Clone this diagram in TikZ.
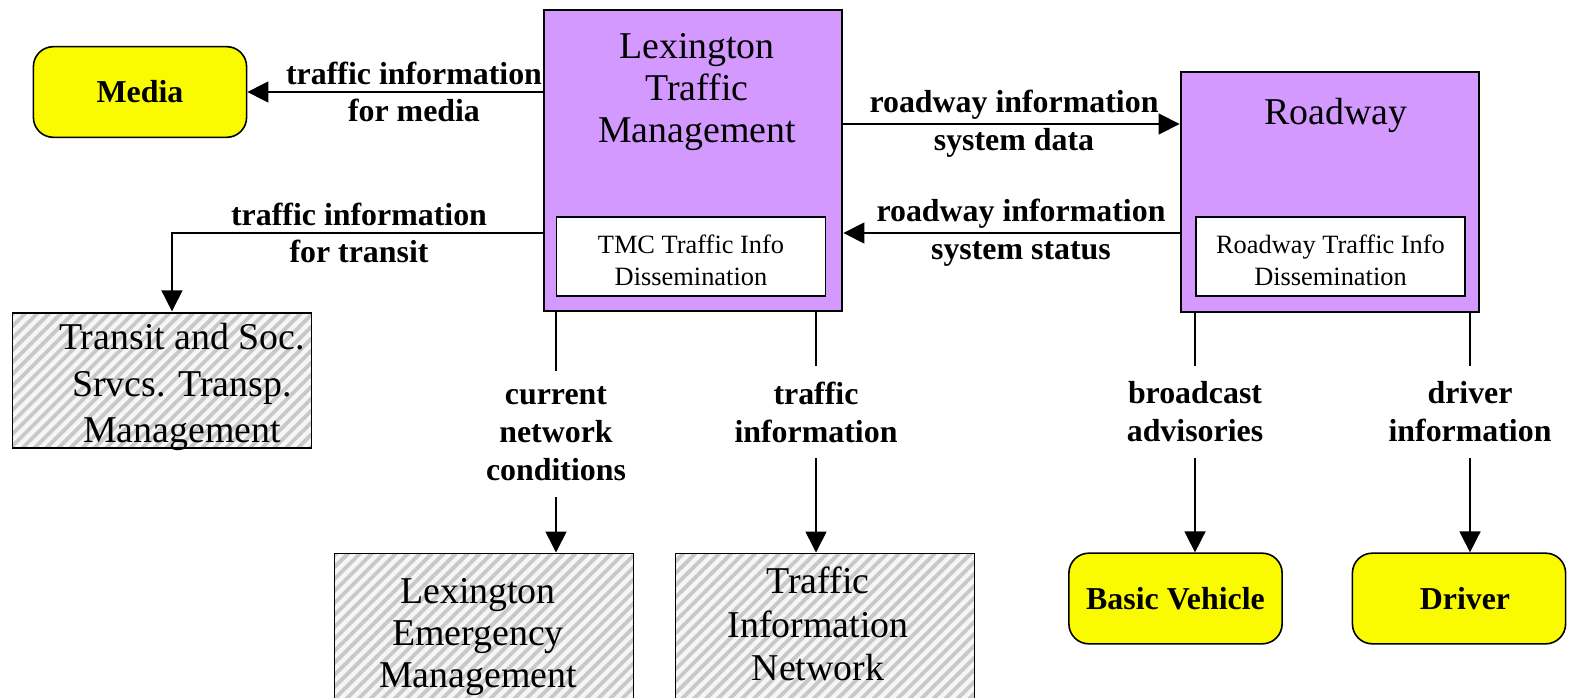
\documentclass[tikz,border=0pt]{standalone}
\usepackage{fontspec}
\setmainfont{Liberation Serif}
\usepackage{xcolor}
\usetikzlibrary{arrows.meta,patterns.meta}
\definecolor{tmcPurple}{RGB}{212,153,255}
\definecolor{termYellow}{RGB}{250,250,0}
\definecolor{hatchGray}{RGB}{200,200,200}
\newcommand{\BigTxt}{\fontsize{38}{42}\selectfont}
\newcommand{\FlowTxt}{\bfseries\fontsize{32}{38}\selectfont}
\newcommand{\SubTxt}{\fontsize{26.5}{32}\selectfont}
\begin{document}
\begin{tikzpicture}[x=1bp,y=-1bp,
  flow/.style={line width=1.6pt,-{Triangle[length=21pt,width=21pt]}},
  wire/.style={line width=1.6pt},
  subsys/.style={draw,line width=2pt,fill=tmcPurple,minimum width=300pt,inner sep=0pt},
  pspec/.style={draw,line width=1.6pt,fill=white,minimum width=270pt,minimum height=79pt,inner sep=0pt,align=center,font=\SubTxt},
  extbox/.style={draw,line width=1.6pt,preaction={fill=gray!7},pattern={Lines[angle=45,distance=8.5pt,line width=3.8pt]},pattern color=hatchGray,minimum width=300pt,inner sep=0pt},
  termbox/.style={draw,line width=1.6pt,fill=termYellow,rounded corners=20pt,minimum width=214pt,minimum height=91pt,font=\FlowTxt},
  flowlbl/.style={align=center,font=\FlowTxt,inner sep=0pt},
  vlbl/.style={align=center,font=\FlowTxt,inner xsep=0pt,inner ysep=16pt},
  bigtxt/.style={align=center,font=\BigTxt,inner sep=0pt}]
\useasboundingbox (0,0) rectangle (1570,698);
\node[subsys,minimum height=303pt] (tmc) at (693,160.5) {};
\node[bigtxt] (tmctitle) at (697,92) {Lexington\\Traffic\\Management};
\node[pspec] (tmcinfo) at (691,256.5) {\\[-5pt]TMC Traffic Info\\Dissemination};
\node[subsys,minimum height=240pt] (road) at (1330,192) {};
\node[bigtxt] (roadtitle) at (1336,115) {Roadway};
\node[pspec] (roadinfo) at (1330.5,256.5) {\\[-5pt]Roadway Traffic Info\\Dissemination};
\node[termbox] (media) at (140,92) {Media};
\node[extbox,minimum height=135pt] (transit) at (162,380.5) {};
\node[bigtxt,font=\fontsize{38}{47}\selectfont] (transittxt) at (182,387) {Transit and Soc.\\Srvcs. Transp.\\Management};
\node[extbox,minimum height=165pt] (lexem) at (484,635.5) {};
\node[bigtxt] (lexemtxt) at (478,637) {Lexington\\Emergency\\Management};
\node[extbox,minimum height=165pt] (tin) at (825,635.5) {};
\node[bigtxt,font=\fontsize{38}{44}\selectfont] (tintxt) at (818,624) {Traffic\\Information\\Network};
\node[termbox] (vehicle) at (1175.5,598.5) {Basic Vehicle};
\node[termbox] (driver) at (1459,598.5) {\hspace{12pt}Driver};
\node[flowlbl] (medialbl) at (414,92) {traffic information\\for media};
\node[flowlbl] (datalbl) at (1014,124) {roadway information\\system data};
\node[flowlbl] (statuslbl) at (1021,233) {roadway information\\system status};
\node[flowlbl] (transitlbl) at (359,233) {traffic information\\for transit};
\node[vlbl] (cnclbl) at (556,434) {current\\network\\conditions};
\node[vlbl] (tinlbl) at (816,412) {traffic\\information};
\node[vlbl] (bcastlbl) at (1195,412) {broadcast\\advisories};
\node[vlbl] (drvlbl) at (1470,412) {driver\\information};
\draw[flow] (tmc.west |- media) -- (media.east);
\draw[flow] (tmc.east |- datalbl) -- (road.west |- datalbl);
\draw[flow] (road.west |- statuslbl) -- (tmc.east |- statuslbl);
\draw[flow] (tmc.west |- transitlbl) -| ([xshift=10]transit.north);
\draw[wire] (tmc.south -| cnclbl) -- (cnclbl.north);
\draw[flow] (cnclbl.south) -- (cnclbl.south |- lexem.north);
\draw[wire] (tmc.south -| tinlbl) -- (tinlbl.north);
\draw[flow] (tinlbl.south) -- (tinlbl.south |- tin.north);
\draw[wire] (road.south -| bcastlbl) -- (bcastlbl.north);
\draw[flow] (bcastlbl.south) -- (bcastlbl.south |- vehicle.north);
\draw[wire] (road.south -| drvlbl) -- (drvlbl.north);
\draw[flow] (drvlbl.south) -- (drvlbl.south |- driver.north);
\end{tikzpicture}
\end{document}
